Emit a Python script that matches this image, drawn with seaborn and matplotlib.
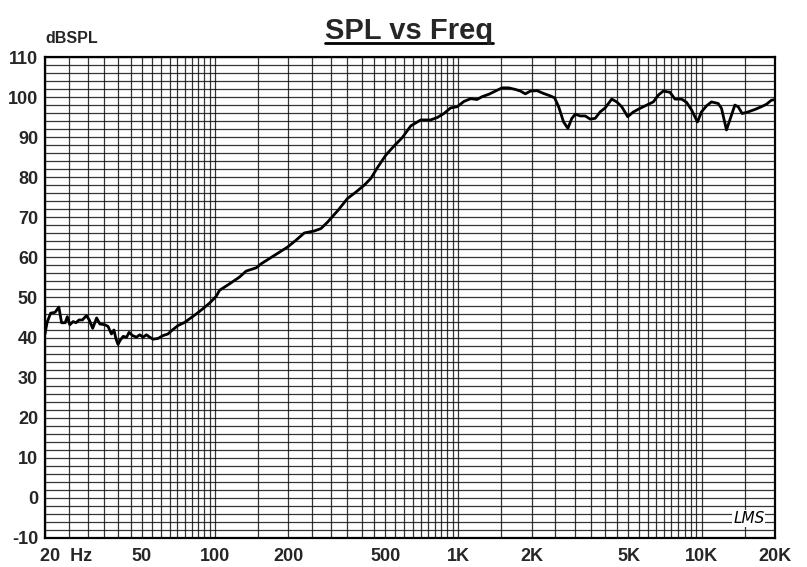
import numpy as np
import pandas as pd
import matplotlib
matplotlib.use("Agg")
import matplotlib.pyplot as plt
import matplotlib.transforms as mtransforms
from matplotlib.lines import Line2D
import seaborn as sns

# ---- data ----
freq_hz = [20, 20.4, 21.1, 22.0, 22.8, 23.4, 24.2, 24.7, 25.3, 26.1, 26.8, 27.6, 28.5,
           29.6, 30.4, 31.4, 32.6, 33.6, 35.2, 36.3, 37.5, 38.4, 39.1, 39.9, 40.8,
           41.9, 43.3, 44.3, 45.8, 47.5, 49.0, 50.6, 52.2, 53.9, 55.6, 58.3, 61.1,
           64.0, 67.1, 70.4, 75.0, 78.6, 83.7, 89.1, 94.9, 101.1, 104.3, 114.6,
           126.0, 134.2, 147.5, 154.6, 167.2, 183.8, 198.7, 215.1, 232.6, 255.8,
           272.3, 289.8, 303.9, 321.6, 350.0, 379.0, 409.8, 436.5, 464.6, 502.8,
           543.8, 588.1, 636.8, 699.9, 768.9, 818.4, 872, 929, 988, 1053, 1122,
           1193, 1251, 1333, 1420, 1511, 1610, 1715, 1798, 1884, 1976, 2102, 2240,
           2386, 2486, 2581, 2705, 2817, 2925, 3021, 3166, 3319, 3480, 3648, 3824,
           4009, 4267, 4473, 4546, 4690, 4962, 5236, 5580, 5937, 6325, 6631, 6951,
           7405, 7763, 8260, 8659, 9078, 9604, 9973, 10456, 10962, 11685, 12054,
           12637, 13247, 13679, 14113, 14656, 15504, 16520, 17583, 18434, 19314,
           20000]
spl_db = [40.9, 43.8, 46.1, 46.3, 47.6, 43.7, 43.7, 45.2, 43.2, 44.0, 43.7, 44.4, 44.4,
          45.5, 44.4, 42.3, 44.9, 43.4, 43.2, 42.8, 40.9, 41.9, 39.8, 38.3, 39.4,
          40.3, 40.1, 41.3, 40.5, 40.1, 40.7, 40.1, 40.7, 40.1, 39.6, 39.8, 40.5,
          40.9, 42.0, 43.0, 43.8, 44.7, 45.9, 47.2, 48.6, 50.3, 51.8, 53.4,
          55.1, 56.6, 57.4, 58.4, 59.7, 61.3, 62.6, 64.3, 66.1, 66.6,
          67.2, 68.8, 70.2, 71.9, 74.7, 76.3, 78.0, 79.7, 82.4, 85.5,
          87.8, 89.9, 92.8, 94.3, 94.3, 94.9, 95.9, 97.3, 97.6, 98.9, 99.6,
          99.4, 100.1, 100.7, 101.5, 102.3, 102.3, 101.9, 101.5, 100.8, 101.5, 101.6, 100.9,
          100.3, 99.8, 97.6, 93.8, 92.2, 94.7, 95.7, 95.3, 95.3, 94.5, 94.7, 96.3,
          97.3, 99.5, 98.8, 98.4, 97.6, 95.1, 96.3, 97.2, 98.0, 98.8, 100.5, 101.5,
          101.2, 99.5, 99.5, 98.7, 96.8, 93.8, 96.3, 97.8, 98.8, 98.4, 97.2,
          91.8, 95.5, 98.0, 97.6, 95.9, 96.3, 96.9, 97.6, 98.2, 99.2,
          99.4]
x_tick_vals = [20, 50, 100, 200, 500, 1000, 2000, 5000, 10000, 20000]
x_tick_labels = ["20  Hz", "50", "100", "200", "500", "1K", "2K", "5K", "10K", "20K"]
y_tick_vals = list(range(-10, 111, 10))
y_tick_labels = [str(v) for v in y_tick_vals]

df = pd.DataFrame({"freq": freq_hz, "spl": spl_db})

sns.set_style("white")
plt.rcParams["font.family"] = ["Liberation Sans", "DejaVu Sans"]
plt.rcParams["axes.unicode_minus"] = False

W, H = 807, 567
fig = plt.figure(figsize=(W / 100, H / 100), dpi=100)
ax = fig.add_axes([45 / W, (H - 538) / H, (775 - 45) / W, (538 - 57) / H])

sns.lineplot(data=df, x="freq", y="spl", ax=ax, color="black", linewidth=2.0,
             sort=False, estimator=None, zorder=5)

ax.set_xscale("log")
ax.set_xlim(20, 20000)
ax.set_ylim(-10, 110)

# grid positions
minor_x = []
for dec in [10, 100, 1000, 10000]:
    for m in np.arange(1.0, 10.01, 0.5):
        v = dec * m
        if 20 <= v <= 20000:
            minor_x.append(v)
ax.set_xticks(minor_x, minor=True)
ax.set_xticks(x_tick_vals)
ax.set_xticklabels(x_tick_labels)
ax.set_yticks(y_tick_vals)
ax.set_yticklabels(y_tick_labels)
ax.set_yticks(np.arange(-10, 111, 2), minor=True)
ax.xaxis.set_minor_formatter(matplotlib.ticker.NullFormatter())

ax.grid(True, which="both", color="#111111", linewidth=0.9, alpha=0.85)
ax.tick_params(which="both", length=0)
ax.tick_params(axis="y", pad=5)
ax.tick_params(axis="x", pad=7)
for lab in ax.get_xticklabels() + ax.get_yticklabels():
    lab.set_fontweight("bold")
    lab.set_fontsize(13)

# shift "20 Hz" label so it starts near the left edge
first = ax.get_xticklabels()[0]
first.set_horizontalalignment("left")
first.set_transform(first.get_transform() +
                    mtransforms.ScaledTranslation(-5 / 100, 0, fig.dpi_scale_trans))

for sp in ax.spines.values():
    sp.set_color("black")
    sp.set_linewidth(1.6)
    sp.set_visible(True)

ax.set_xlabel("")
ax.set_ylabel("")

# unit label
fig.text(45 / W, (H - 46) / H, "dBSPL", fontsize=11.5, fontweight="bold",
         ha="left", va="bottom")

# title with underline
t = fig.text(409 / W, (H - 39) / H, "SPL vs Freq", fontsize=21, fontweight="bold",
             ha="center", va="baseline")
fig.canvas.draw()
bb = t.get_window_extent(renderer=fig.canvas.get_renderer())
uy = (H - 43) / H
fig.add_artist(Line2D([bb.x0 / W, bb.x1 / W], [uy, uy], color="black",
                      linewidth=2.0, transform=fig.transFigure))

# LMS mark
ax.text(0.964, 0.04, "LMS", transform=ax.transAxes, fontsize=11, style="italic",
        family="DejaVu Sans", ha="center", va="center", color="black", zorder=6,
        bbox=dict(facecolor="white", edgecolor="none", pad=0.5))

fig.savefig("out.png", dpi=100)
